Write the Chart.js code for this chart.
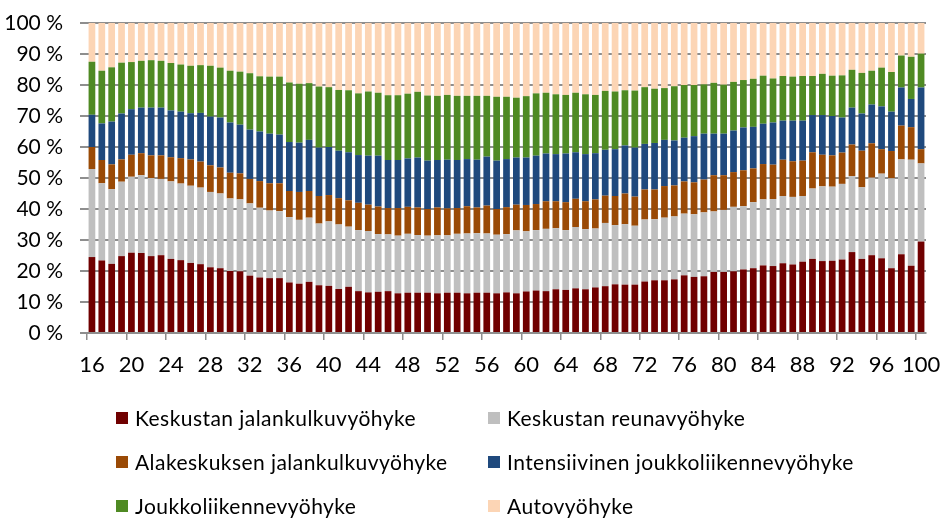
<!DOCTYPE html>
<html lang="fi">
<head>
<meta charset="utf-8">
<title>Vyöhykejakauma iän mukaan</title>
<script src="https://cdn.jsdelivr.net/npm/chart.js@4/dist/chart.umd.min.js"></script>
<style>
  html, body { margin: 0; padding: 0; background: #fff; }
  #wrap { position: relative; width: 946px; height: 518px; overflow: hidden; }
  #chart { position: absolute; left: 0; top: 0; }
  #legend {
    position: absolute; left: 0; top: 0; width: 946px; height: 518px;
    font-family: Lato, 'Open Sans', sans-serif; font-size: 21px; letter-spacing: 0.45px; color: #000;
  }
  .lg-item { position: absolute; display: flex; align-items: center; height: 24px; line-height: 24px; white-space: nowrap; }
  .lg-box  { width: 12px; height: 12px; margin-right: 7px; flex: none; }
</style>
</head>
<body>
<div id="wrap">
  <canvas id="chart" width="946" height="395"></canvas>
  <div id="legend"></div>
</div>

<script>
/* ── Data: share of each zone by age (%) ── */
const ages = [
  16, 17, 18, 19, 20, 21, 22, 23, 24, 25, 26, 27, 28, 29, 30, 31, 32, 33, 34, 35,
  36, 37, 38, 39, 40, 41, 42, 43, 44, 45, 46, 47, 48, 49, 50, 51, 52, 53, 54, 55,
  56, 57, 58, 59, 60, 61, 62, 63, 64, 65, 66, 67, 68, 69, 70, 71, 72, 73, 74, 75,
  76, 77, 78, 79, 80, 81, 82, 83, 84, 85, 86, 87, 88, 89, 90, 91, 92, 93, 94, 95,
  96, 97, 98, 99, 100,
];

const keskustaJalankulku = [
  24.5, 23.4, 22.3, 24.8, 25.9, 25.8, 24.8, 25.1, 23.9, 23.5, 22.6, 22.2, 21.2, 20.9, 20.0, 19.9, 18.5, 17.9, 17.7, 17.7,
  16.3, 15.9, 16.5, 15.4, 15.2, 14.2, 14.9, 13.5, 13.1, 13.3, 13.5, 12.8, 13.0, 13.0, 13.0, 12.8, 13.0, 13.0, 12.8, 13.0,
  13.0, 12.8, 13.1, 12.8, 13.4, 13.7, 13.5, 14.1, 13.9, 14.4, 14.1, 14.7, 15.1, 15.7, 15.6, 15.6, 16.6, 17.0, 17.0, 17.3,
  18.6, 18.1, 18.3, 19.7, 19.7, 19.9, 20.5, 20.9, 21.8, 21.6, 22.5, 22.1, 23.0, 23.9, 23.2, 23.3, 23.7, 26.1, 23.9, 25.1,
  24.1, 20.9, 25.4, 21.7, 29.5,
];

const keskustaReuna = [
  28.4, 24.9, 24.1, 24.0, 24.5, 25.1, 25.2, 24.6, 25.0, 24.7, 24.9, 24.7, 24.3, 24.1, 23.4, 23.2, 23.3, 22.5, 21.8, 21.6,
  21.1, 20.6, 20.7, 19.9, 20.8, 20.8, 19.4, 19.7, 19.8, 18.6, 18.3, 18.6, 19.0, 18.6, 18.4, 18.7, 18.5, 19.0, 19.3, 19.2,
  19.1, 18.9, 18.8, 20.3, 19.4, 19.5, 20.1, 19.7, 19.3, 19.8, 19.4, 19.0, 20.4, 19.1, 19.5, 19.0, 20.0, 19.7, 20.2, 20.3,
  19.9, 20.2, 20.6, 19.5, 20.0, 20.8, 20.4, 21.3, 21.3, 21.6, 21.7, 21.8, 21.2, 22.7, 24.1, 23.9, 24.4, 24.5, 23.1, 25.0,
  27.3, 29.0, 30.6, 34.2, 25.2,
];

const alakeskusJalankulku = [
  7.1, 7.5, 8.0, 7.2, 7.1, 7.1, 7.3, 7.6, 7.8, 8.2, 8.5, 8.4, 8.6, 8.4, 8.3, 8.4, 7.9, 8.6, 8.8, 9.0,
  8.4, 9.0, 8.6, 8.9, 8.5, 8.5, 8.5, 8.8, 8.5, 8.9, 8.5, 8.9, 8.7, 8.9, 8.6, 9.0, 8.7, 8.3, 8.8, 8.3,
  9.0, 8.3, 8.7, 8.3, 8.5, 8.4, 8.9, 8.7, 9.0, 9.1, 9.0, 9.4, 8.8, 9.4, 9.9, 9.4, 9.7, 9.6, 10.2, 10.0,
  10.4, 10.3, 10.6, 11.7, 11.2, 11.2, 11.6, 10.9, 11.4, 11.1, 11.7, 11.5, 11.4, 11.7, 10.2, 10.1, 10.1, 10.2, 11.8, 11.1,
  7.9, 8.8, 10.9, 10.5, 4.6,
];

const intensiivinenJoukkoliikenne = [
  10.4, 11.8, 13.8, 14.8, 14.7, 14.7, 15.4, 15.4, 15.1, 15.0, 14.9, 15.7, 15.7, 16.1, 16.2, 15.7, 15.9, 16.0, 16.0, 15.7,
  15.8, 15.9, 16.5, 15.6, 15.5, 15.3, 15.5, 15.4, 15.8, 16.4, 15.5, 15.5, 15.6, 16.1, 15.6, 15.3, 15.7, 15.5, 15.2, 15.4,
  15.8, 15.6, 15.5, 15.2, 15.3, 15.6, 15.4, 15.2, 15.7, 15.0, 15.2, 14.9, 14.8, 15.1, 15.5, 15.8, 14.7, 15.0, 14.9, 14.5,
  14.1, 14.9, 14.8, 13.4, 13.4, 13.4, 13.8, 13.4, 13.0, 13.6, 12.6, 13.1, 12.9, 12.0, 12.8, 12.7, 11.3, 11.9, 12.0, 12.5,
  13.8, 12.7, 12.3, 9.1, 19.9,
];

const joukkoliikenne = [
  17.1, 17.0, 17.5, 16.4, 15.2, 15.1, 15.3, 15.1, 15.3, 15.2, 15.3, 15.4, 16.4, 16.1, 16.7, 17.1, 18.2, 17.8, 18.4, 18.7,
  19.2, 19.0, 18.3, 19.7, 19.3, 19.6, 20.0, 19.9, 20.7, 20.3, 20.9, 20.9, 20.9, 21.2, 21.0, 20.7, 20.9, 20.7, 20.4, 20.6,
  19.6, 20.6, 20.1, 19.3, 19.8, 20.1, 19.6, 19.3, 18.9, 19.2, 19.3, 18.8, 19.0, 18.6, 17.8, 18.4, 18.3, 17.5, 16.7, 17.5,
  17.0, 16.5, 15.9, 16.4, 15.8, 15.7, 15.3, 15.5, 15.5, 14.2, 14.4, 14.2, 14.4, 12.6, 13.3, 13.0, 13.6, 12.2, 13.1, 10.9,
  12.5, 12.8, 10.3, 13.6, 10.9,
];

const auto = [
  12.5, 15.4, 14.3, 12.8, 12.6, 12.2, 12.0, 12.2, 12.9, 13.4, 13.8, 13.6, 13.8, 14.4, 15.4, 15.7, 16.2, 17.2, 17.3, 17.3,
  19.2, 19.6, 19.4, 20.5, 20.7, 21.6, 21.7, 22.7, 22.1, 22.5, 23.3, 23.3, 22.8, 22.2, 23.4, 23.5, 23.2, 23.5, 23.5, 23.5,
  23.5, 23.8, 23.8, 24.1, 23.6, 22.7, 22.5, 23.0, 23.2, 22.5, 23.0, 23.2, 21.9, 22.1, 21.7, 21.8, 20.7, 21.2, 21.0, 20.4,
  20.0, 20.0, 19.8, 19.3, 19.9, 19.0, 18.4, 18.0, 17.0, 17.9, 17.1, 17.3, 17.1, 17.1, 16.4, 17.0, 16.9, 15.1, 16.1, 15.4,
  14.4, 15.8, 10.5, 10.9, 9.9,
];

const seriesNames = [
  'Keskustan jalankulkuvyöhyke',
  'Keskustan reunavyöhyke',
  'Alakeskuksen jalankulkuvyöhyke',
  'Intensiivinen joukkoliikennevyöhyke',
  'Joukkoliikennevyöhyke',
  'Autovyöhyke',
];
const seriesValues = [
  keskustaJalankulku, keskustaReuna, alakeskusJalankulku,
  intensiivinenJoukkoliikenne, joukkoliikenne, auto,
];
const seriesColors = ['#700000', '#BFBFBF', '#9A4A06', '#1F497D', '#4F8A23', '#FCD5B5'];

const yTicks = [0, 10, 20, 30, 40, 50, 60, 70, 80, 90, 100];

/* ── Chart ── */
const FONT = "Lato, 'Open Sans', sans-serif";
const GRID = '#8e8e8e';

const datasets = seriesNames.map((name, i) => ({
  label: name,
  data: seriesValues[i],
  backgroundColor: seriesColors[i],
  borderWidth: 0,
  barPercentage: 0.68,
  categoryPercentage: 1.0,
}));

new Chart(document.getElementById('chart'), {
  type: 'bar',
  data: { labels: ages, datasets },
  options: {
    responsive: false,
    animation: false,
    layout: { padding: { top: 23, right: 20, left: 0, bottom: 0 } },
    plugins: { legend: { display: false }, tooltip: { enabled: false } },
    scales: {
      x: {
        stacked: true,
        grid: {
          display: true,
          drawOnChartArea: false,
          drawTicks: true,
          tickLength: 7,
          lineWidth: 1.5,
          color: (c) => (c.index % 4 === 0 ? GRID : 'rgba(0,0,0,0)'),
        },
        border: { display: true, color: GRID, width: 2 },
        ticks: {
          autoSkip: false,
          maxRotation: 0,
          minRotation: 0,
          padding: 12,
          color: '#000',
          font: { family: FONT, size: 22 },
          callback: (v, i) => (ages[i] % 4 === 0 ? String(ages[i]) : ''),
        },
        afterFit: (s) => { s.height = 62; s.paddingLeft = 0; s.paddingRight = 0; },
      },
      y: {
        stacked: true,
        min: 0,
        max: 100,
        z: 1,
        grid: { color: GRID, lineWidth: 2, tickLength: 7 },
        border: { display: false },
        afterBuildTicks: (s) => { s.ticks = yTicks.map((v) => ({ value: v })); },
        ticks: {
          padding: 17,
          color: '#000',
          font: { family: FONT, size: 21 },
          callback: (v) => v + ' %',
        },
        afterFit: (s) => { s.width = 87; s.paddingTop = 0; s.paddingBottom = 0; },
      },
    },
  },
});

/* ── Legend (two columns) ── */
const legend = document.getElementById('legend');
const colX = [116, 488];
const rowY = [418, 462, 506];
seriesNames.forEach((name, i) => {
  const item = document.createElement('div');
  item.className = 'lg-item';
  item.style.left = colX[i % 2] + 'px';
  item.style.top = (rowY[Math.floor(i / 2)] - 12) + 'px';
  item.innerHTML = `<span class="lg-box" style="background:${seriesColors[i]}"></span><span>${name}</span>`;
  legend.appendChild(item);
});
</script>
</body>
</html>
